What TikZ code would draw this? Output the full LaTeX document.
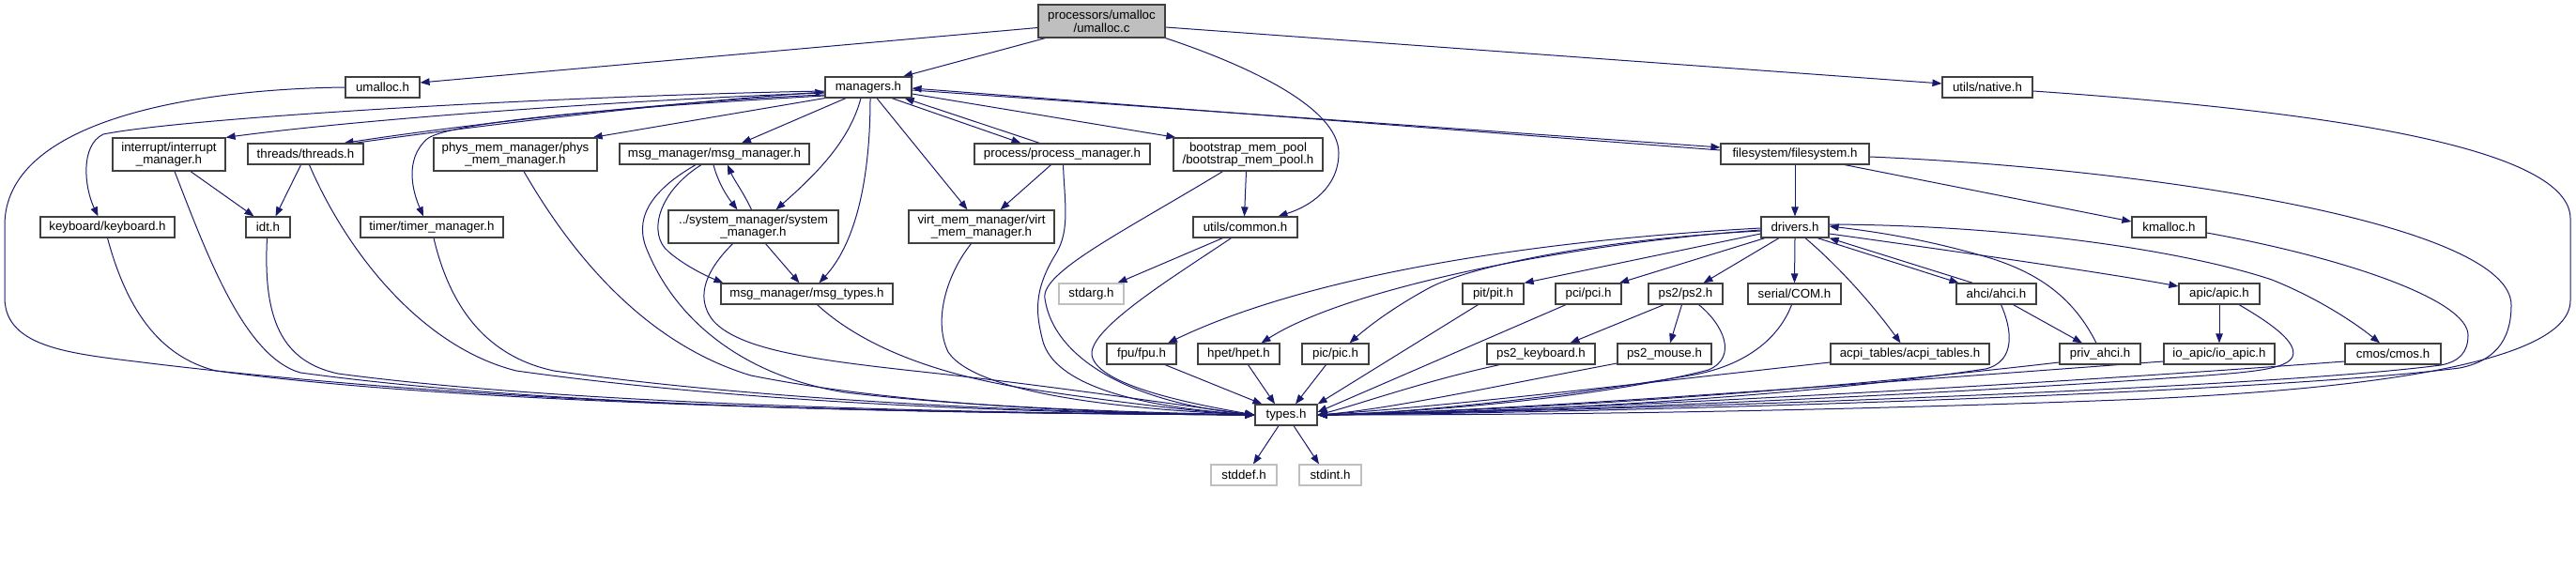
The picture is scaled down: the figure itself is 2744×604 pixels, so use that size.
\documentclass[tikz,border=0pt]{standalone}
\usepackage{fontspec}
\setmainfont{Liberation Sans}
\usetikzlibrary{arrows.meta}
\pgfdeclarelayer{bg}
\pgfsetlayers{bg,main}
\definecolor{edgec}{HTML}{191970}
\definecolor{boxc}{HTML}{404040}
\definecolor{grayc}{HTML}{BFBFBF}
\tikzset{
  filebox/.style={draw=boxc, line width=1.2pt, fill=white, inner sep=0pt, minimum height=22pt, align=center, font=\fontsize{13.3}{13.6}\selectfont},
  tall/.style={minimum height=35pt},
  sysbox/.style={filebox, draw=grayc},
  dep/.style={draw=edgec, line width=1pt, -{Triangle[length=10pt,width=7.5pt]}},
}
\begin{document}
\begin{tikzpicture}[x=1pt,y=-1pt]
\useasboundingbox (0,0) rectangle (2744,604);
% nodes
\node[filebox, tall, fill=grayc, minimum width=135pt] (umallocc) at (1173.5,22.5) {processors/umalloc\\/umalloc.c};
\node[filebox, minimum width=79pt] (umalloch) at (407.5,93) {umalloc.h};
\node[filebox, minimum width=92pt] (managers) at (925,93) {managers.h};
\node[filebox, minimum width=96pt] (native) at (2117,93) {utils/native.h};
\node[filebox, tall, minimum width=120pt] (intr) at (180,164.5) {interrupt/interrupt\\\_manager.h};
\node[filebox, minimum width=123pt] (threads) at (325.5,164) {threads/threads.h};
\node[filebox, tall, minimum width=174pt] (phys) at (549,164.5) {phys\_mem\_manager/phys\\\_mem\_manager.h};
\node[filebox, minimum width=202pt] (msgmgr) at (761,164) {msg\_manager/msg\_manager.h};
\node[filebox, minimum width=187pt] (procmgr) at (1131.5,164) {process/process\_manager.h};
\node[filebox, tall, minimum width=159pt] (boot) at (1329.5,164.5) {bootstrap\_mem\_pool\\/bootstrap\_mem\_pool.h};
\node[filebox, minimum width=158pt] (fs) at (1912,164) {filesystem/filesystem.h};
\node[filebox, minimum width=143pt] (keyboard) at (114.5,242) {keyboard/keyboard.h};
\node[filebox, minimum width=47pt] (idt) at (285.5,242) {idt.h};
\node[filebox, minimum width=152pt] (timer) at (460,242) {timer/timer\_manager.h};
\node[filebox, tall, minimum width=181pt] (sysmgr) at (802.5,241.5) {../system\_manager/system\\\_manager.h};
\node[filebox, tall, minimum width=155pt] (virt) at (1045.5,241.5) {virt\_mem\_manager/virt\\\_mem\_manager.h};
\node[filebox, minimum width=111pt] (common) at (1326.5,242) {utils/common.h};
\node[filebox, minimum width=72pt] (drivers) at (1912,242) {drivers.h};
\node[filebox, minimum width=79pt] (kmalloc) at (2310.5,242) {kmalloc.h};
\node[filebox, minimum width=183pt] (msgtypes) at (859.5,313) {msg\_manager/msg\_types.h};
\node[sysbox, minimum width=69pt] (stdarg) at (1162.5,313) {stdarg.h};
\node[filebox, minimum width=65pt] (pit) at (1590.5,313) {pit/pit.h};
\node[filebox, minimum width=70pt] (pci) at (1692,313) {pci/pci.h};
\node[filebox, minimum width=79pt] (ps2) at (1795.5,313) {ps2/ps2.h};
\node[filebox, minimum width=99pt] (com) at (1911.5,313) {serial/COM.h};
\node[filebox, minimum width=85pt] (ahci) at (2126.5,313) {ahci/ahci.h};
\node[filebox, minimum width=86pt] (apic) at (2364,313) {apic/apic.h};
\node[filebox, minimum width=74pt] (fpu) at (1216,377) {fpu/fpu.h};
\node[filebox, minimum width=87pt] (hpet) at (1319.5,377) {hpet/hpet.h};
\node[filebox, minimum width=71pt] (pic) at (1422.5,377) {pic/pic.h};
\node[filebox, minimum width=115pt] (ps2kb) at (1641.5,377) {ps2\_keyboard.h};
\node[filebox, minimum width=100pt] (ps2m) at (1773,377) {ps2\_mouse.h};
\node[filebox, minimum width=169pt] (acpi) at (2034.5,377) {acpi\_tables/acpi\_tables.h};
\node[filebox, minimum width=86pt] (privahci) at (2237,377) {priv\_ahci.h};
\node[filebox, minimum width=118pt] (ioapic) at (2364,377) {io\_apic/io\_apic.h};
\node[filebox, minimum width=102pt] (cmos) at (2549,377) {cmos/cmos.h};
\node[filebox, minimum width=66pt] (types) at (1370,442) {types.h};
\node[sysbox, minimum width=70pt] (stddef) at (1325,506) {stddef.h};
\node[sysbox, minimum width=66pt] (stdint) at (1417,506) {stdint.h};
% edges
\begin{pgfonlayer}{bg}
% from umalloc.c
\draw[dep] ([yshift=-7pt]umallocc.west) -- ([yshift=5pt]umalloch.east);
\draw[dep] ([xshift=-60pt]umallocc.south) -- ([xshift=37pt]managers.north);
\draw[dep] (umallocc.south east) .. controls (1330,70) and (1426,115) .. (1426,163) .. controls (1426,200) and (1395,220) .. ([xshift=35pt]common.north);
\draw[dep] ([yshift=-6.5pt]umallocc.east) -- ([yshift=4pt]native.west);
\draw[dep] (umalloch.west) .. controls (200,95) and (5,130) .. (5,240) -- (5,317) .. controls (5,372) and (80,377) .. (160,387) .. controls (600,440) and (1100,440) .. (types.west);
\draw[dep] ([yshift=-4pt]native.east) .. controls (2500,120) and (2738,160) .. (2738,233) -- (2738,320) .. controls (2738,390) and (2500,415) .. (2285,425) .. controls (1900,440) and (1600,442) .. (types.east);
% from managers.h
\draw[dep] ([yshift=-4pt]managers.west) .. controls (600,102) and (200,125) .. (110,143) .. controls (85,155) and (90,200) .. ([xshift=-10pt]keyboard.north);
\draw[dep] ([yshift=-6pt]managers.west) .. controls (700,105) and (400,125) .. (intr.north east);
\draw[dep] ([yshift=-8pt]managers.west) .. controls (700,108) and (480,135) .. ([xshift=41pt]threads.north);
\draw[dep] ([xshift=52pt]threads.north) .. controls (480,138) and (700,110) .. ([yshift=-5pt]managers.west);
\draw[dep] ([yshift=-9pt]managers.west) .. controls (700,112) and (480,128) .. (455,148) .. controls (430,170) and (440,205) .. ([xshift=-9pt]timer.north);
\draw[dep] (managers.south west) -- ([xshift=-5pt]phys.north east);
\draw[dep] ([xshift=-24pt]managers.south) -- ([xshift=29pt]msgmgr.north);
\draw[dep] ([xshift=-8pt]managers.south) .. controls (905,150) and (870,185) .. ([xshift=24pt]sysmgr.north);
\draw[dep] ([xshift=2pt]managers.south) .. controls (927,180) and (915,255) .. ([xshift=13pt]msgtypes.north);
\draw[dep] ([xshift=9pt]managers.south) -- ([xshift=-15pt]virt.north);
\draw[dep] ([xshift=25pt]managers.south) -- ([xshift=-44pt]procmgr.north);
\draw[dep] ([xshift=-24pt]procmgr.north) -- ([xshift=-8pt]managers.south east);
\draw[dep] ([yshift=-7pt]managers.east) -- ([xshift=3pt]boot.north west);
\draw[dep] ([yshift=-3pt]managers.east) -- ([yshift=7pt]fs.west);
\draw[dep] ([yshift=4pt]fs.west) -- ([yshift=-1pt]managers.east);
% second level, left
\draw[dep] ([xshift=23pt]intr.south) -- ([xshift=-15pt]idt.north);
\draw[dep] ([xshift=-5pt]threads.south) -- ([xshift=8pt]idt.north);
\draw[dep] ([xshift=-1pt]msgmgr.south) .. controls (765,195) and (775,210) .. ([xshift=-17pt]sysmgr.north);
\draw[dep] ([xshift=-2pt]sysmgr.north) .. controls (792,205) and (782,192) .. ([xshift=14pt]msgmgr.south);
\draw[dep] ([xshift=-14pt]msgmgr.south) .. controls (700,205) and (690,250) .. (712,268) .. controls (728,282) and (750,293) .. ([xshift=3pt]msgtypes.north west);
\draw[dep] ([xshift=-20pt]msgmgr.south) .. controls (690,205) and (675,235) .. (690,268) .. controls (720,340) and (790,400) .. (900,418) .. controls (1050,436) and (1250,440) .. (types.west);
\draw[dep] ([xshift=13pt]sysmgr.south) -- ([xshift=-8pt]msgtypes.north);
\draw[dep] ([xshift=-22pt]sysmgr.south) .. controls (755,285) and (738,315) .. (760,342) .. controls (790,375) and (880,385) .. (1000,398) .. controls (1150,415) and (1280,435) .. (types.west);
\draw[dep] ([xshift=11pt]msgtypes.south) .. controls (920,370) and (1000,400) .. (1100,415) .. controls (1200,430) and (1290,440) .. (types.west);
\draw[dep] ([xshift=-11pt]virt.south) .. controls (1010,290) and (993,340) .. (1010,375) .. controls (1040,420) and (1200,436) .. (types.west);
\draw[dep] ([xshift=-12pt]procmgr.south) -- ([xshift=20pt]virt.north);
\draw[dep] ([xshift=1pt]procmgr.south) .. controls (1134,215) and (1140,245) .. (1125,270) .. controls (1100,310) and (1104,335) .. (1110,360) .. controls (1122,420) and (1250,436) .. (types.west);
\draw[dep] ([xshift=9pt]phys.south) .. controls (620,290) and (700,370) .. (800,400) .. controls (950,430) and (1150,440) .. (types.west);
\draw[dep] ([xshift=-2pt]boot.south) -- ([xshift=-1pt]common.north);
\draw[dep] ([xshift=-27pt]boot.south) .. controls (1200,245) and (1108,290) .. (1113,318) .. controls (1122,380) and (1200,428) .. (types.west);
\draw[dep] ([xshift=-24pt]common.south) -- ([xshift=28pt]stdarg.north);
\draw[dep] ([xshift=-15pt]common.south) .. controls (1250,295) and (1160,350) .. (1163,378) .. controls (1168,412) and (1280,432) .. (types.west);
\draw[dep] (keyboard.south) .. controls (135,330) and (170,380) .. (230,395) .. controls (500,432) and (1000,440) .. (types.west);
\draw[dep] ([xshift=6pt]intr.south) .. controls (220,270) and (260,380) .. (320,397) .. controls (600,435) and (1000,440) .. (types.west);
\draw[dep] ([xshift=-1pt]idt.south) .. controls (280,340) and (300,385) .. (360,398) .. controls (600,430) and (1000,440) .. (types.west);
\draw[dep] ([xshift=4pt]threads.south) .. controls (370,270) and (450,370) .. (550,395) .. controls (800,430) and (1100,440) .. (types.west);
\draw[dep] ([xshift=2pt]timer.south) .. controls (480,330) and (520,380) .. (590,395) .. controls (800,425) and (1100,440) .. (types.west);
% around types.h
\draw[dep] ([xshift=25pt]fpu.south) -- ([xshift=8pt]types.north west);
\draw[dep] ([xshift=10pt]hpet.south) -- ([xshift=-12pt]types.north);
\draw[dep] ([xshift=-10pt]pic.south) -- ([xshift=10pt]types.north);
\draw[dep] ([xshift=-8pt]types.south) -- ([xshift=10pt]stddef.north);
\draw[dep] ([xshift=8pt]types.south) -- ([xshift=-12pt]stdint.north);
% filesystem and drivers
\draw[dep] (fs.south) -- (drivers.north);
\draw[dep] ([xshift=53pt]fs.south) -- ([yshift=6pt]kmalloc.west);
\draw[dep] ([yshift=-3pt]fs.east) .. controls (2300,180) and (2675,240) .. (2675,325) .. controls (2675,365) and (2655,385) .. (2620,392) .. controls (2400,420) and (1700,440) .. (types.east);
\draw[dep] ([yshift=-6pt]kmalloc.east) .. controls (2500,275) and (2629,320) .. (2629,357) .. controls (2629,375) and (2620,385) .. (2600,389) .. controls (2400,415) and (1700,438) .. (types.east);
\draw[dep] ([yshift=-1pt]drivers.west) .. controls (1600,258) and (1380,300) .. ([xshift=28pt]fpu.north);
\draw[dep] ([yshift=-3pt]drivers.west) .. controls (1650,262) and (1430,310) .. ([xshift=24pt]hpet.north);
\draw[dep] ([yshift=-4pt]drivers.west) .. controls (1700,255) and (1560,285) .. (1520,308) .. controls (1480,330) and (1455,350) .. ([xshift=15pt]pic.north);
\draw[dep] ([yshift=-7pt]drivers.west) -- (pit.north east);
\draw[dep] ([xshift=-32pt]drivers.south) -- ([xshift=33pt]pci.north);
\draw[dep] ([xshift=-17pt]drivers.south) -- ([xshift=19pt]ps2.north);
\draw[dep] (drivers.south) -- (com.north);
\draw[dep] ([xshift=11pt]drivers.south) .. controls (1960,285) and (1995,325) .. ([xshift=-10pt]acpi.north);
\draw[dep] ([xshift=24pt]drivers.south) -- ([xshift=-40pt]ahci.north);
\draw[dep] ([xshift=-25pt]ahci.north) -- (drivers.south east);
\draw[dep] ([yshift=-7pt]drivers.east) .. controls (2100,270) and (2250,292) .. ([yshift=8pt]apic.west);
\draw[dep] ([xshift=-4pt]privahci.north) .. controls (2210,320) and (2175,290) .. (2110,272) .. controls (2050,255) and (2000,247) .. ([yshift=1pt]drivers.east);
\draw[dep] ([yshift=3pt]drivers.east) .. controls (2150,240) and (2330,268) .. (2420,298) .. controls (2470,318) and (2510,345) .. ([xshift=-14pt]cmos.north);
\draw[dep] ([xshift=18pt]ahci.south) -- ([xshift=-19pt]privahci.north);
\draw[dep] ([xshift=5pt]ahci.south) .. controls (2143,350) and (2148,385) .. (2115,393) .. controls (1900,425) and (1600,440) .. (types.east);
\draw[dep] ([yshift=-9pt]privahci.west) .. controls (1900,420) and (1600,438) .. (types.east);
\draw[dep] (apic.south) -- (ioapic.north);
\draw[dep] ([xshift=21pt]apic.south) .. controls (2420,345) and (2448,365) .. (2442,380) .. controls (2436,393) and (2400,396) .. (2350,400) .. controls (2000,425) and (1600,440) .. (types.east);
\draw[dep] ([yshift=-8pt]ioapic.west) .. controls (1900,415) and (1600,438) .. (types.east);
\draw[dep] ([yshift=-8pt]cmos.west) .. controls (2100,415) and (1600,440) .. (types.east);
\draw[dep] ([yshift=-9pt]acpi.west) .. controls (1750,408) and (1550,432) .. (types.east);
\draw[dep] ([xshift=-3pt]com.south) .. controls (1895,360) and (1860,390) .. (1800,400) .. controls (1650,425) and (1500,440) .. (types.east);
\draw[dep] ([xshift=-23pt]ps2.south) -- ([xshift=31pt]ps2kb.north);
\draw[dep] ([xshift=-4pt]ps2.south) -- ([xshift=6pt]ps2m.north);
\draw[dep] ([xshift=14pt]ps2.south) .. controls (1835,345) and (1852,380) .. (1820,394) .. controls (1700,425) and (1500,440) .. (types.east);
\draw[dep] ([xshift=-44pt]ps2kb.south) .. controls (1520,405) and (1450,430) .. (types.east);
\draw[dep] ([yshift=-10pt]ps2m.west) .. controls (1600,410) and (1480,436) .. (types.east);
\draw[dep] ([xshift=-16pt]pit.south) -- (types.north east);
\draw[dep] ([xshift=-24pt]pci.south) -- ([yshift=3pt]types.east);
\end{pgfonlayer}
\end{tikzpicture}
\end{document}
